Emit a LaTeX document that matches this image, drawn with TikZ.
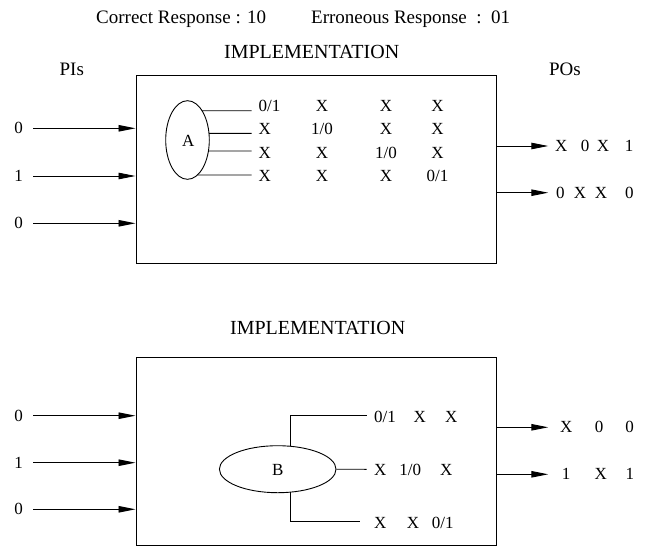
\documentclass[tikz,border=0pt]{standalone}
\usepackage{fontspec}
\setmainfont{Liberation Serif}
\usetikzlibrary{arrows.meta,shapes.geometric,intersections}
\begin{document}
\begin{tikzpicture}[x=1pt,y=-1pt,
  big/.style={font=\fontsize{19pt}{22pt}\selectfont, inner sep=0pt},
  ttl/.style={font=\fontsize{20pt}{22pt}\selectfont, inner sep=0pt, anchor=base},
  sm/.style={font=\fontsize{17pt}{20pt}\selectfont, inner sep=0pt},
  boxst/.style={draw, line width=1pt, rectangle, minimum width=360pt, minimum height=188pt, inner sep=0pt},
  ell/.style={draw, line width=0.9pt, ellipse, inner sep=0pt},
  ln/.style={line width=0.9pt},
  arr/.style={line width=0.9pt, -{Triangle[length=17pt,width=6.5pt]}}]
\useasboundingbox (0,0) rectangle (647,546);

% top labels
\node[big, anchor=base west] (cr) at (96,23.3) {Correct Response : 10};
\node[big, anchor=base west] (er) at (311,23.3) {Erroneous Response\ \ :\ \ 01};
\node[ttl] (impl1) at (311.7,58.3) {IMPLEMENTATION};
\node[big, anchor=base] (pis) at (71.8,75) {PIs};
\node[big, anchor=base] (pos) at (565,75) {POs};

% box 1
\node[boxst] (box1) at (316,169) {};
\foreach \n/\t/\y in {1/0/128.3, 2/1/176, 3/0/223.3}{
  \node[sm, anchor=base] (i\n) at (18.7,\y+5.5) {\t};
  \coordinate (ia\n) at (33.3,\y);
  \draw[arr] (ia\n) -- (ia\n -| box1.west);
}
\node[ell, minimum width=43.6pt, minimum height=78.6pt, name path=pA] (A) at (187.5,140) {};
\node[sm] (Alab) at (188.3,141) {A};
\foreach \n/\y in {1/110.7, 2/133.3, 3/151, 4/175}{
  \coordinate (r\n) at (251.7,\y);
  \path[name path=h\n] (A.center |- r\n) -- (r\n);
  \draw[ln, name intersections={of=pA and h\n}] (intersection-1) -- (r\n);
}
% cells
\foreach \r/\y/\a/\b/\c/\d in {1/106.2/{0/1}/X/X/X, 2/129/X/{1/0}/X/X, 3/152.5/X/X/{1/0}/X, 4/176/X/X/X/{0/1}}{
  \node[sm, anchor=base west] (c\r a) at (258.5,\y+5.5) {\a};
  \node[sm, anchor=base] (c\r b) at (322,\y+5.5) {\b};
  \node[sm, anchor=base] (c\r c) at (386,\y+5.5) {\c};
  \node[sm, anchor=base] (c\r d) at (437.5,\y+5.5) {\d};
}
% outputs box 1
\node[sm, anchor=base west] (o1) at (555,151.5) {X\hspace{13.4pt}0\hspace{7.6pt}X\hspace{15.6pt}1};
\node[sm, anchor=base west] (o2) at (556,198.2) {0\hspace{9.1pt}X\hspace{8.7pt}X\hspace{18.1pt}0};
\coordinate (oa1) at (548.3,146);
\coordinate (oa2) at (548.3,192.7);
\draw[arr] (box1.east |- oa1) -- (oa1);
\draw[arr] (box1.east |- oa2) -- (oa2);

% box 2
\node[ttl] (impl2) at (317.7,334.3) {IMPLEMENTATION};
\node[boxst] (box2) at (316,451) {};
\foreach \n/\t/\y in {1/0/415.7, 2/1/462.7, 3/0/509.3}{
  \node[sm, anchor=base] (j\n) at (18.7,\y+5.5) {\t};
  \coordinate (ja\n) at (33.3,\y);
  \draw[arr] (ja\n) -- (ja\n -| box2.west);
}
\node[ell, minimum width=116.6pt, minimum height=47pt, name path=pB] (B) at (277.7,469.2) {};
\node[sm] (Blab) at (277.7,470) {B};
\coordinate (t1) at (366.7,415.7);
\coordinate (t2) at (366.7,469.3);
\coordinate (t3) at (360,521.7);
\path[name path=vt] (290.7,469.2) -- (290.7,400);
\path[name path=vb] (290.7,469.2) -- (290.7,540);
\draw[ln, name intersections={of=pB and vt}] (intersection-1) |- (t1);
\draw[ln] (B.east) -- (t2);
\draw[ln, name intersections={of=pB and vb}] (intersection-1) |- (t3);
\node[sm, anchor=base west] (s1) at (374,422.2) {0/1\hspace{17.6pt}X\hspace{19.4pt}X};
\node[sm, anchor=base west] (s2) at (374,475.5) {X\hspace{13pt}1/0\hspace{19pt}X};
\node[sm, anchor=base west] (s3) at (374,528.2) {X\hspace{20.4pt}X\hspace{12.7pt}0/1};
% outputs box 2
\node[sm, anchor=base west] (p1) at (559.9,432.8) {X\hspace{22.6pt}0\hspace{22pt}0};
\node[sm, anchor=base west] (p2) at (561.75,479.8) {1\hspace{24.1pt}X\hspace{18.9pt}1};
\coordinate (pa1) at (548.3,427.3);
\coordinate (pa2) at (548.3,474.3);
\draw[arr] (box2.east |- pa1) -- (pa1);
\draw[arr] (box2.east |- pa2) -- (pa2);
\end{tikzpicture}
\end{document}
